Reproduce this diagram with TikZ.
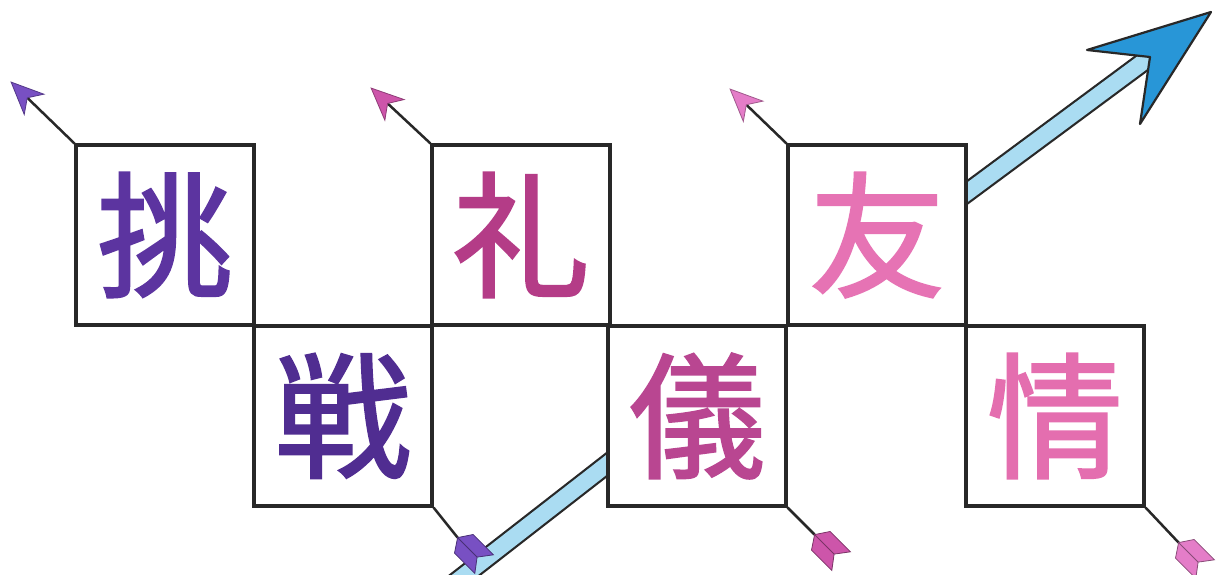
\documentclass[tikz,border=0pt]{standalone}
\usepackage{fontspec}
\newfontfamily\cjk[FakeBold=1.6]{Noto Sans CJK JP}
\usetikzlibrary{arrows.meta}
\definecolor{ctiao}{RGB}{92,52,160}
\definecolor{czhan}{RGB}{80,45,145}
\definecolor{crei}{RGB}{180,60,135}
\definecolor{cgi}{RGB}{185,70,145}
\definecolor{cyu}{RGB}{230,115,180}
\definecolor{cjou}{RGB}{228,110,175}
\definecolor{hpurple}{RGB}{120,80,195}
\definecolor{hmag}{RGB}{205,85,170}
\definecolor{hpink}{RGB}{228,125,200}
\definecolor{shaftblue}{RGB}{170,220,242}
\definecolor{headblue}{RGB}{40,150,215}
\definecolor{ink}{RGB}{40,40,40}
\tikzset{
  kanji/.style={draw=ink, line width=3.2pt, fill=white, minimum width=178pt, minimum height=180pt, inner sep=0pt,
    font=\cjk\fontsize{136}{136}\selectfont},
  pointer/.style={draw=ink, line width=2.5pt},
  tiphead/.style={-{Stealth[length=34pt,width=30pt,inset=10pt,line width=0.8pt,color=#1!70!black,fill=#1]}},
  fletchfill/.style={line width=0.8pt, draw=#1!60!black, fill=#1},
}
\begin{document}
\begin{tikzpicture}[x=1pt,y=-1pt]
\useasboundingbox[fill=white] (0,0) rectangle (1216,574);
% big arrow shaft (behind boxes)
\coordinate (s0) at (452,585);
\coordinate (s1) at (700,392);
\coordinate (s2) at (880,257);
\coordinate (notch) at (1150,57);
\coordinate (tip) at (1211,12);
\coordinate (barbL) at (1087,50);
\coordinate (barbR) at (1140,124);
\draw[line width=2.2pt, draw=ink, double=shaftblue, double distance=16pt] (s0) -- (s1);
\draw[line width=2.2pt, draw=ink, double=shaftblue, double distance=16pt] (s2) -- (notch);
% boxes
\node[kanji, text=ctiao] (b1) at (165,235) {挑};
\node[kanji, text=czhan] (b2) at (343,416) {戦};
\node[kanji, text=crei] (b3) at (521,235) {礼};
\node[kanji, text=cgi] (b4) at (697,416) {儀};
\node[kanji, text=cyu] (b5) at (877,235) {友};
\node[kanji, text=cjou] (b6) at (1055,416) {情};
% big arrow head
\filldraw[line width=2.2pt, draw=ink, fill=headblue, line join=round] (tip) -- (barbL) -- (notch) -- (barbR) -- cycle;
% top arrows with heads
\coordinate (t1) at ([shift={(-64,-62)}]b1.north west);
\coordinate (t3) at ([shift={(-60,-56)}]b3.north west);
\coordinate (t5) at ([shift={(-57,-55)}]b5.north west);
\draw[pointer, tiphead=hpurple] (b1.north west) -- (t1);
\draw[pointer, tiphead=hmag] (b3.north west) -- (t3);
\draw[pointer, tiphead=hpink] (b5.north west) -- (t5);
% bottom arrows with fletching
\coordinate (f2) at ([shift={(24,30)}]b2.south east);
\coordinate (f4) at ([shift={(27,27)}]b4.south east);
\coordinate (f6) at ([shift={(33,35)}]b6.south east);
\draw[pointer] (b2.south east) -- (f2);
\draw[pointer] (b4.south east) -- (f4);
\draw[pointer] (b6.south east) -- (f6);
\filldraw[fletchfill=hpurple] (f2) -- +(15.5,-3.1) -- +(35.8,17.2) -- +(19.5,19.5) -- +(17.2,35.8) -- +(-3.1,15.5) -- cycle;
\draw[line width=0.8pt, draw=hpurple!60!black] (f2) -- +(19.5,19.5);
\filldraw[fletchfill=hmag] (f4) -- +(15.5,-3.1) -- +(35.8,17.2) -- +(19.5,19.5) -- +(17.2,35.8) -- +(-3.1,15.5) -- cycle;
\draw[line width=0.8pt, draw=hmag!60!black] (f4) -- +(19.5,19.5);
\filldraw[fletchfill=hpink] (f6) -- +(15.5,-3.1) -- +(35.8,17.2) -- +(19.5,19.5) -- +(17.2,35.8) -- +(-3.1,15.5) -- cycle;
\draw[line width=0.8pt, draw=hpink!60!black] (f6) -- +(19.5,19.5);
\end{tikzpicture}
\end{document}
